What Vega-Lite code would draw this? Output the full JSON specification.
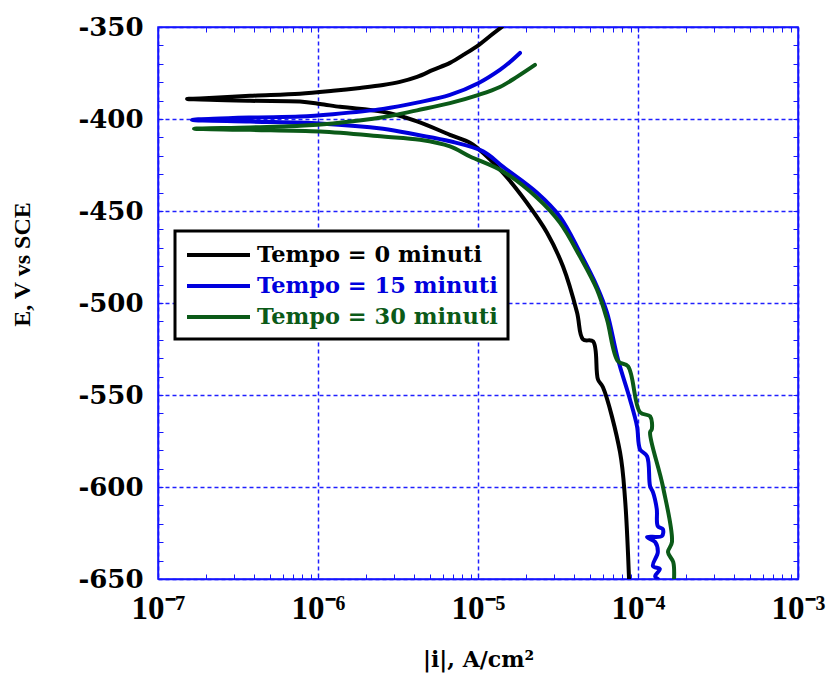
{
  "$schema": "https://vega.github.io/schema/vega-lite/v6.json",
  "autosize": "none",
  "padding": {"left": 158, "top": 27, "right": 31, "bottom": 94},
  "width": 640,
  "height": 552,
  "background": "white",
  "config": {
    "view": {"stroke": "#1515ff", "strokeWidth": 1.5}
  },
  "data": {"values": [
    {"s": "Tempo = 0 minuti", "o": 1, "i": 1.41e-5, "E": -350},
    {"s": "Tempo = 0 minuti", "o": 2, "i": 1.19e-5, "E": -354.9},
    {"s": "Tempo = 0 minuti", "o": 3, "i": 1.01e-5, "E": -359.8},
    {"s": "Tempo = 0 minuti", "o": 4, "i": 8.30e-6, "E": -364.6},
    {"s": "Tempo = 0 minuti", "o": 5, "i": 6.68e-6, "E": -369.5},
    {"s": "Tempo = 0 minuti", "o": 6, "i": 5.24e-6, "E": -373.3},
    {"s": "Tempo = 0 minuti", "o": 7, "i": 4.16e-6, "E": -377.1},
    {"s": "Tempo = 0 minuti", "o": 8, "i": 3.25e-6, "E": -379.8},
    {"s": "Tempo = 0 minuti", "o": 9, "i": 2.55e-6, "E": -381.5},
    {"s": "Tempo = 0 minuti", "o": 10, "i": 1.83e-6, "E": -383.1},
    {"s": "Tempo = 0 minuti", "o": 11, "i": 1.24e-6, "E": -384.7},
    {"s": "Tempo = 0 minuti", "o": 12, "i": 7.72e-7, "E": -386.3},
    {"s": "Tempo = 0 minuti", "o": 13, "i": 3.76e-7, "E": -387.4},
    {"s": "Tempo = 0 minuti", "o": 14, "i": 1.83e-7, "E": -388.8},
    {"s": "Tempo = 0 minuti", "o": 15, "i": 1.52e-7, "E": -389.1},
    {"s": "Tempo = 0 minuti", "o": 16, "i": 3.76e-7, "E": -390.1},
    {"s": "Tempo = 0 minuti", "o": 17, "i": 7.72e-7, "E": -390.5},
    {"s": "Tempo = 0 minuti", "o": 18, "i": 1.03e-6, "E": -391.8},
    {"s": "Tempo = 0 minuti", "o": 19, "i": 1.37e-6, "E": -393.4},
    {"s": "Tempo = 0 minuti", "o": 20, "i": 1.58e-6, "E": -393.9},
    {"s": "Tempo = 0 minuti", "o": 21, "i": 2.55e-6, "E": -396.1},
    {"s": "Tempo = 0 minuti", "o": 22, "i": 4.16e-6, "E": -401.3},
    {"s": "Tempo = 0 minuti", "o": 23, "i": 6.68e-6, "E": -408.6},
    {"s": "Tempo = 0 minuti", "o": 24, "i": 8.91e-6, "E": -412.9},
    {"s": "Tempo = 0 minuti", "o": 25, "i": 9.86e-6, "E": -415.6},
    {"s": "Tempo = 0 minuti", "o": 26, "i": 1.43e-5, "E": -429.2},
    {"s": "Tempo = 0 minuti", "o": 27, "i": 2.02e-5, "E": -445.5},
    {"s": "Tempo = 0 minuti", "o": 28, "i": 2.70e-5, "E": -461.8},
    {"s": "Tempo = 0 minuti", "o": 29, "i": 3.40e-5, "E": -480.2},
    {"s": "Tempo = 0 minuti", "o": 30, "i": 4.16e-5, "E": -505.2},
    {"s": "Tempo = 0 minuti", "o": 31, "i": 4.53e-5, "E": -519.8},
    {"s": "Tempo = 0 minuti", "o": 32, "i": 5.24e-5, "E": -520.9},
    {"s": "Tempo = 0 minuti", "o": 33, "i": 5.62e-5, "E": -541.5},
    {"s": "Tempo = 0 minuti", "o": 34, "i": 6.04e-5, "E": -545.8},
    {"s": "Tempo = 0 minuti", "o": 35, "i": 7.72e-5, "E": -581.1},
    {"s": "Tempo = 0 minuti", "o": 36, "i": 8.30e-5, "E": -606.6},
    {"s": "Tempo = 0 minuti", "o": 37, "i": 8.79e-5, "E": -650},
    {"s": "Tempo = 15 minuti", "o": 1, "i": 1.83e-5, "E": -364.1},
    {"s": "Tempo = 15 minuti", "o": 2, "i": 1.585e-5, "E": -369},
    {"s": "Tempo = 15 minuti", "o": 3, "i": 1.37e-5, "E": -373.3},
    {"s": "Tempo = 15 minuti", "o": 4, "i": 1.01e-5, "E": -380.4},
    {"s": "Tempo = 15 minuti", "o": 5, "i": 6.68e-6, "E": -386.9},
    {"s": "Tempo = 15 minuti", "o": 6, "i": 4.16e-6, "E": -391.1},
    {"s": "Tempo = 15 minuti", "o": 7, "i": 2.55e-6, "E": -394.5},
    {"s": "Tempo = 15 minuti", "o": 8, "i": 1.24e-6, "E": -397.4},
    {"s": "Tempo = 15 minuti", "o": 9, "i": 7.72e-7, "E": -398.7},
    {"s": "Tempo = 15 minuti", "o": 10, "i": 3.76e-7, "E": -399.2},
    {"s": "Tempo = 15 minuti", "o": 11, "i": 1.63e-7, "E": -400.5},
    {"s": "Tempo = 15 minuti", "o": 12, "i": 3.76e-7, "E": -401.4},
    {"s": "Tempo = 15 minuti", "o": 13, "i": 1.03e-6, "E": -402.4},
    {"s": "Tempo = 15 minuti", "o": 14, "i": 2.55e-6, "E": -405.3},
    {"s": "Tempo = 15 minuti", "o": 15, "i": 4.16e-6, "E": -408.6},
    {"s": "Tempo = 15 minuti", "o": 16, "i": 6.68e-6, "E": -412.1},
    {"s": "Tempo = 15 minuti", "o": 17, "i": 1.075e-5, "E": -417.6},
    {"s": "Tempo = 15 minuti", "o": 18, "i": 1.43e-5, "E": -425.9},
    {"s": "Tempo = 15 minuti", "o": 19, "i": 2.34e-5, "E": -440.1},
    {"s": "Tempo = 15 minuti", "o": 20, "i": 3.25e-5, "E": -453.1},
    {"s": "Tempo = 15 minuti", "o": 21, "i": 4.34e-5, "E": -472.6},
    {"s": "Tempo = 15 minuti", "o": 22, "i": 5.54e-5, "E": -491},
    {"s": "Tempo = 15 minuti", "o": 23, "i": 6.40e-5, "E": -505.2},
    {"s": "Tempo = 15 minuti", "o": 24, "i": 7.50e-5, "E": -530.7},
    {"s": "Tempo = 15 minuti", "o": 25, "i": 8.91e-5, "E": -552.4},
    {"s": "Tempo = 15 minuti", "o": 26, "i": 9.86e-5, "E": -567},
    {"s": "Tempo = 15 minuti", "o": 27, "i": 1.03e-4, "E": -579.5},
    {"s": "Tempo = 15 minuti", "o": 28, "i": 1.14e-4, "E": -583.3},
    {"s": "Tempo = 15 minuti", "o": 29, "i": 1.19e-4, "E": -599.6},
    {"s": "Tempo = 15 minuti", "o": 30, "i": 1.24e-4, "E": -602.8},
    {"s": "Tempo = 15 minuti", "o": 31, "i": 1.31e-4, "E": -612},
    {"s": "Tempo = 15 minuti", "o": 32, "i": 1.33e-4, "E": -621.3},
    {"s": "Tempo = 15 minuti", "o": 33, "i": 1.43e-4, "E": -622.9},
    {"s": "Tempo = 15 minuti", "o": 34, "i": 1.41e-4, "E": -626.7},
    {"s": "Tempo = 15 minuti", "o": 35, "i": 1.14e-4, "E": -627.2},
    {"s": "Tempo = 15 minuti", "o": 36, "i": 1.28e-4, "E": -629.9},
    {"s": "Tempo = 15 minuti", "o": 37, "i": 1.33e-4, "E": -635.4},
    {"s": "Tempo = 15 minuti", "o": 38, "i": 1.24e-4, "E": -642.9},
    {"s": "Tempo = 15 minuti", "o": 39, "i": 1.37e-4, "E": -644.6},
    {"s": "Tempo = 15 minuti", "o": 40, "i": 1.28e-4, "E": -648.4},
    {"s": "Tempo = 15 minuti", "o": 41, "i": 1.33e-4, "E": -650},
    {"s": "Tempo = 30 minuti", "o": 1, "i": 2.27e-5, "E": -370.6},
    {"s": "Tempo = 30 minuti", "o": 2, "i": 1.75e-5, "E": -377.1},
    {"s": "Tempo = 30 minuti", "o": 3, "i": 1.37e-5, "E": -382.6},
    {"s": "Tempo = 30 minuti", "o": 4, "i": 1.01e-5, "E": -386.9},
    {"s": "Tempo = 30 minuti", "o": 5, "i": 6.68e-6, "E": -391.4},
    {"s": "Tempo = 30 minuti", "o": 6, "i": 4.16e-6, "E": -395.3},
    {"s": "Tempo = 30 minuti", "o": 7, "i": 2.55e-6, "E": -399.1},
    {"s": "Tempo = 30 minuti", "o": 8, "i": 1.24e-6, "E": -402.4},
    {"s": "Tempo = 30 minuti", "o": 9, "i": 7.72e-7, "E": -403.7},
    {"s": "Tempo = 30 minuti", "o": 10, "i": 3.76e-7, "E": -404.6},
    {"s": "Tempo = 30 minuti", "o": 11, "i": 1.68e-7, "E": -405.3},
    {"s": "Tempo = 30 minuti", "o": 12, "i": 3.76e-7, "E": -405.9},
    {"s": "Tempo = 30 minuti", "o": 13, "i": 1.03e-6, "E": -406.8},
    {"s": "Tempo = 30 minuti", "o": 14, "i": 2.55e-6, "E": -409.5},
    {"s": "Tempo = 30 minuti", "o": 15, "i": 4.34e-6, "E": -411.3},
    {"s": "Tempo = 30 minuti", "o": 16, "i": 6.68e-6, "E": -414.9},
    {"s": "Tempo = 30 minuti", "o": 17, "i": 8.91e-6, "E": -420.4},
    {"s": "Tempo = 30 minuti", "o": 18, "i": 1.43e-5, "E": -428.5},
    {"s": "Tempo = 30 minuti", "o": 19, "i": 2.34e-5, "E": -442.8},
    {"s": "Tempo = 30 minuti", "o": 20, "i": 3.25e-5, "E": -456.3},
    {"s": "Tempo = 30 minuti", "o": 21, "i": 4.34e-5, "E": -474.8},
    {"s": "Tempo = 30 minuti", "o": 22, "i": 5.54e-5, "E": -492.7},
    {"s": "Tempo = 30 minuti", "o": 23, "i": 6.40e-5, "E": -508.9},
    {"s": "Tempo = 30 minuti", "o": 24, "i": 7.50e-5, "E": -531.7},
    {"s": "Tempo = 30 minuti", "o": 25, "i": 8.66e-5, "E": -534.4},
    {"s": "Tempo = 30 minuti", "o": 26, "i": 1.03e-4, "E": -559.4},
    {"s": "Tempo = 30 minuti", "o": 27, "i": 1.19e-4, "E": -561.6},
    {"s": "Tempo = 30 minuti", "o": 28, "i": 1.22e-4, "E": -568.6},
    {"s": "Tempo = 30 minuti", "o": 29, "i": 1.19e-4, "E": -570.3},
    {"s": "Tempo = 30 minuti", "o": 30, "i": 1.43e-4, "E": -599.6},
    {"s": "Tempo = 30 minuti", "o": 31, "i": 1.63e-4, "E": -629.9},
    {"s": "Tempo = 30 minuti", "o": 32, "i": 1.54e-4, "E": -635.4},
    {"s": "Tempo = 30 minuti", "o": 33, "i": 1.66e-4, "E": -640.8},
    {"s": "Tempo = 30 minuti", "o": 34, "i": 1.68e-4, "E": -650}
  ]},
  "resolve": {"axis": {"x": "independent", "y": "independent"}},
  "layer": [
    {
      "mark": {"type": "line", "strokeWidth": 4, "strokeJoin": "round", "strokeCap": "round", "clip": true, "interpolate": "catmull-rom"},
      "encoding": {
        "x": {
          "field": "i", "type": "quantitative",
          "scale": {"type": "log", "domain": [1e-7, 1e-3], "nice": false},
          "axis": {
            "orient": "bottom",
            "values": [1e-7,2e-7,3e-7,4e-7,5e-7,6e-7,7e-7,8e-7,9e-7,1e-6,2e-6,3e-6,4e-6,5e-6,6e-6,7e-6,8e-6,9e-6,1e-5,2e-5,3e-5,4e-5,5e-5,6e-5,7e-5,8e-5,9e-5,1e-4,2e-4,3e-4,4e-4,5e-4,6e-4,7e-4,8e-4,9e-4,1e-3],
            "labelExpr": "abs(log(datum.value)/LN10 - round(log(datum.value)/LN10)) < 0.001 ? '10' + ['⁻⁷','⁻⁶','⁻⁵','⁻⁴','⁻³'][round(log(datum.value)/LN10)+7] : ''",
            "labelFont": "Liberation Serif", "labelFontSize": 33, "labelFontWeight": "bold", "labelColor": "black",
            "labelBaseline": "alphabetic", "labelPadding": 44, "labelFlush": false, "labelOverlap": false, "labelBound": false,
            "domain": true, "domainColor": "#1515ff", "domainWidth": 1.5,
            "ticks": true, "tickColor": "#1515ff", "tickSize": -5, "tickWidth": 1,
            "grid": true, "gridColor": "#2020ff", "gridDash": [4, 3], "gridWidth": 1.5,
            "gridOpacity": {"condition": {"test": "abs(log(datum.value)/LN10 - round(log(datum.value)/LN10)) < 0.001", "value": 1}, "value": 0},
            "title": "|i|, A/cm²", "titleFont": "DejaVu Serif", "titleFontSize": 22, "titleFontWeight": "bold", "titleColor": "black",
            "titleBaseline": "alphabetic", "titleY": 87
          }
        },
        "y": {
          "field": "E", "type": "quantitative",
          "scale": {"domain": [-650, -350], "nice": false, "zero": false},
          "axis": {
            "orient": "left",
            "values": [-650,-640,-630,-620,-610,-600,-590,-580,-570,-560,-550,-540,-530,-520,-510,-500,-490,-480,-470,-460,-450,-440,-430,-420,-410,-400,-390,-380,-370,-360,-350],
            "labelExpr": "datum.value % 50 == 0 ? '' + datum.value : ''",
            "labelFont": "DejaVu Serif", "labelFontSize": 26, "labelFontWeight": "bold", "labelColor": "black",
            "labelPadding": 20, "labelFlush": false, "labelOverlap": false, "labelBound": false, "labelBaseline": "middle",
            "domain": true, "domainColor": "#1515ff", "domainWidth": 1.5,
            "ticks": true, "tickColor": "#1515ff", "tickSize": -5, "tickWidth": 1,
            "grid": true, "gridColor": "#2020ff", "gridDash": [4, 3], "gridWidth": 1.5,
            "gridOpacity": {"condition": {"test": "datum.value % 50 == 0", "value": 1}, "value": 0},
            "title": "E, V vs SCE", "titleFont": "Liberation Serif", "titleFontSize": 24, "titleFontWeight": "bold", "titleColor": "black",
            "titleAngle": -90, "titleAlign": "center", "titleBaseline": "middle", "titleX": -136, "titleY": 237
          }
        },
        "order": {"field": "o", "type": "quantitative"},
        "color": {
          "field": "s", "type": "nominal",
          "scale": {"domain": ["Tempo = 0 minuti", "Tempo = 15 minuti", "Tempo = 30 minuti"], "range": ["#000000", "#0000dd", "#0b5a18"]},
          "legend": {
            "title": null, "orient": "none", "legendX": 17, "legendY": 204,
            "symbolType": "M-1,0H4.25", "symbolSize": 576, "symbolStrokeWidth": 4, "symbolFillColor": "transparent",
            "labelFont": "DejaVu Serif", "labelFontSize": 22.5, "labelFontWeight": "bold", "labelOffset": 44, "labelLimit": 400,
            "rowPadding": 5, "padding": 10,
            "strokeColor": "black", "fillColor": "white",
            "encode": {
              "legend": {"update": {"stroke": {"value": "black"}, "strokeWidth": {"value": 3}, "fill": {"value": "white"}}},
              "labels": {"update": {"fill": {"scale": "color", "field": "value"}}}
            }
          }
        }
      }
    },
    {
      "mark": {"type": "point", "opacity": 0},
      "encoding": {
        "x": {
          "field": "i", "type": "quantitative",
          "axis": {
            "orient": "top",
            "values": [1e-7,2e-7,3e-7,4e-7,5e-7,6e-7,7e-7,8e-7,9e-7,1e-6,2e-6,3e-6,4e-6,5e-6,6e-6,7e-6,8e-6,9e-6,1e-5,2e-5,3e-5,4e-5,5e-5,6e-5,7e-5,8e-5,9e-5,1e-4,2e-4,3e-4,4e-4,5e-4,6e-4,7e-4,8e-4,9e-4,1e-3],
            "labels": false, "grid": false, "title": null,
            "domain": true, "domainColor": "#1515ff", "domainWidth": 1.5,
            "ticks": true, "tickColor": "#1515ff", "tickSize": -5, "tickWidth": 1
          }
        },
        "y": {
          "field": "E", "type": "quantitative",
          "axis": {
            "orient": "right",
            "values": [-650,-640,-630,-620,-610,-600,-590,-580,-570,-560,-550,-540,-530,-520,-510,-500,-490,-480,-470,-460,-450,-440,-430,-420,-410,-400,-390,-380,-370,-360,-350],
            "labels": false, "grid": false, "title": null,
            "domain": true, "domainColor": "#1515ff", "domainWidth": 1.5,
            "ticks": true, "tickColor": "#1515ff", "tickSize": -5, "tickWidth": 1
          }
        }
      }
    }
  ]
}
